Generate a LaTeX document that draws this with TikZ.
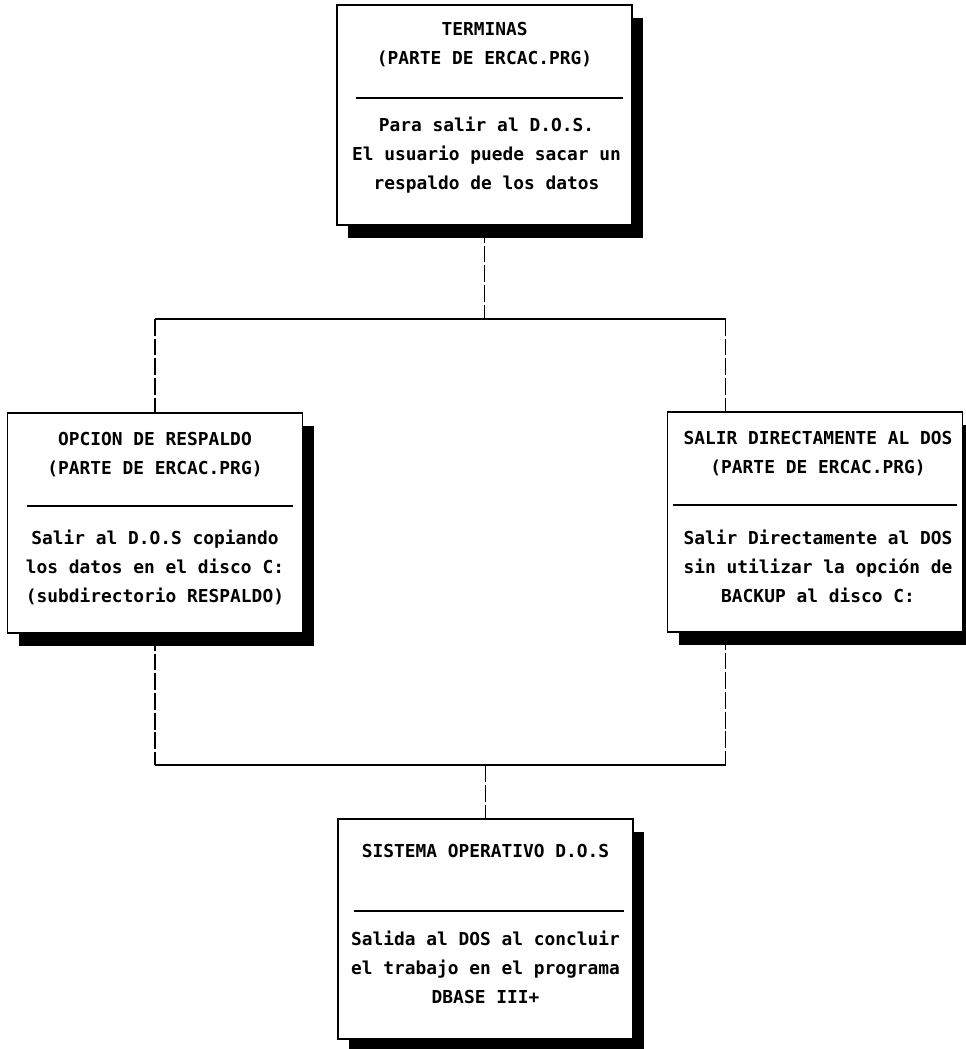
\documentclass[tikz,border=0pt]{standalone}
\usepackage{fontspec}
\newfontfamily\dosfont{DejaVu Sans Mono}
\usetikzlibrary{calc,shadows}

\tikzset{
	card/.style={draw, line width=1.2pt, fill=white, inner sep=0pt,
		minimum width=7.375cm, minimum height=5.5cm,
		drop shadow={shadow xshift=0.28cm, shadow yshift=-0.33cm, fill=black, opacity=1}},
	txt/.style={align=center, inner sep=0pt, font=\dosfont\bfseries\fontsize{12.7}{20.6}\selectfont},
	rule/.style={line width=1.2pt},
	link/.style={line width=1.2pt},
	vlink/.style={line width=1.2pt, dash pattern=on 12pt off 2pt}
}

\begin{document}
\begin{tikzpicture}[x=0.025cm, y=-0.025cm]
			\useasboundingbox (0,0) rectangle (965,1049);
			% cajas
			\node[card] (term) at (484.5,115) {};
			\node[card] (resp) at (155,523) {};
			\node[card] (salir) at (815,522) {};
			\node[card] (sist) at (485.5,929) {};
			% textos
			\node[txt] (termT) at ($(term.north)+(0,40)$) {TERMINAS\\(PARTE DE ERCAC.PRG)};
			\draw[rule] ($(term.north west)+(20,94)$) -- ($(term.north east)+(-10,94)$);
			\node[txt] (termB) at ($(term.north)+(2,151)$) {Para salir al D.O.S.\\El usuario puede sacar un\\respaldo de los datos};
			\node[txt] (respT) at ($(resp.north)+(0,42)$) {OPCION DE RESPALDO\\(PARTE DE ERCAC.PRG)};
			\draw[rule] ($(resp.north west)+(20,94)$) -- ($(resp.north east)+(-10,94)$);
			\node[txt] (respB) at ($(resp.north)+(0,155)$) {Salir al D.O.S copiando\\los datos en el disco C:\\(subdirectorio RESPALDO)};
			\node[txt] (salirT) at ($(salir.north)+(3,42)$) {SALIR DIRECTAMENTE AL DOS\\(PARTE DE ERCAC.PRG)};
			\draw[rule] ($(salir.north west)+(6,94)$) -- ($(salir.north east)+(-6,94)$);
			\node[txt] (salirB) at ($(salir.north)+(3,155)$) {Salir Directamente al DOS\\sin utilizar la opción de\\BACKUP al disco C:};
			\node[txt] (sistT) at ($(sist.north)+(0,33)$) {SISTEMA OPERATIVO D.O.S};
			\draw[rule] ($(sist.north west)+(17,93)$) -- ($(sist.north east)+(-10,93)$);
			\node[txt] (sistB) at ($(sist.north)+(0,149)$) {Salida al DOS al concluir\\el trabajo en el programa\\DBASE III+};
			% conexiones
			\path (term.south) ++(0,93) coordinate (jtop);
			\path (salir.north west) ++(59,0) coordinate (sr);
			\path (salir.south west) ++(59,0) coordinate (srb);
			\coordinate (jl) at (resp.north |- jtop);
			\coordinate (jr) at (sr |- jtop);
			\draw[vlink] (term.south) -- (jtop);
			\draw[link] (jl) -- (jr);
			\draw[vlink] (jl) -- (resp.north);
			\draw[vlink] (jr) -- (sr);
			\path (sist.north) ++(0,-53) coordinate (jbot);
			\coordinate (bl) at (resp.south |- jbot);
			\coordinate (br) at (sr |- jbot);
			\draw[vlink] (resp.south) -- (bl);
			\draw[vlink] (srb) -- (br);
			\draw[link] (bl) -- (br);
			\draw[vlink] (jbot) -- (sist.north);
\end{tikzpicture}
\end{document}
